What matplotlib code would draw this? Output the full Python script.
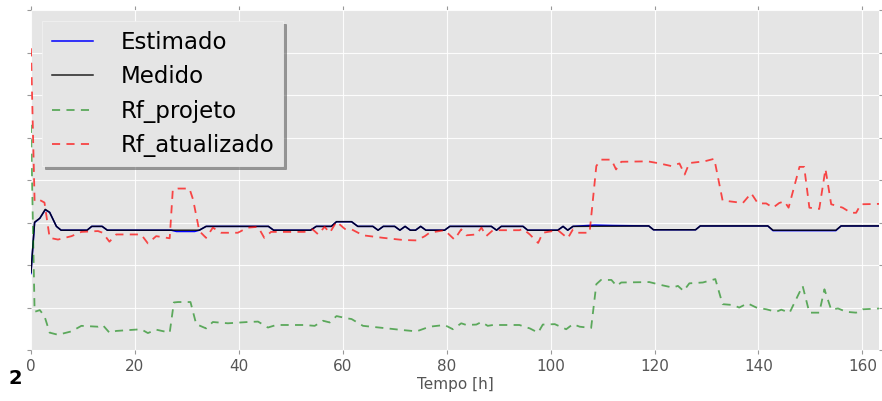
import numpy as np
import matplotlib.pyplot as plt

# Tempo (h) e valores (escala arbitrária do eixo y, 0-8)
x_medido = [0, 0.7, 1.7, 2.75, 3.6, 4.9, 5.8, 10.8, 11.7, 13.7,
            14.7, 32.4, 33.7, 45.7, 46.7, 53.8, 54.9, 57.8, 58.8, 61.7,
            62.9, 65.8, 66.8, 67.8, 70.0, 71.0, 72.0, 73.0, 74.0, 75.0,
            76.0, 79.6, 80.6, 88.6, 89.6, 90.5, 94.7, 95.6, 101.4, 102.4,
            103.3, 104.3, 118.9, 119.8, 127.9, 128.8, 141.8, 142.8, 154.9, 155.9,
            163.5]
y_medido = [1.83, 3.01, 3.1, 3.31, 3.24, 2.91, 2.82, 2.82, 2.91, 2.91,
            2.82, 2.82, 2.91, 2.91, 2.82, 2.82, 2.91, 2.91, 3.02, 3.02,
            2.91, 2.91, 2.82, 2.91, 2.91, 2.82, 2.91, 2.82, 2.82, 2.91,
            2.82, 2.82, 2.91, 2.91, 2.82, 2.91, 2.91, 2.82, 2.82, 2.91,
            2.82, 2.91, 2.92, 2.83, 2.83, 2.92, 2.92, 2.82, 2.82, 2.92,
            2.92]

x_estimado = [0, 0.7, 1.7, 2.75, 3.6, 4.9, 5.8, 10.8, 11.7, 13.7,
              14.7, 27.0, 28.0, 31.5, 32.4, 33.7, 45.7, 46.7, 53.8, 54.9,
              57.8, 58.8, 61.7, 62.9, 65.8, 66.8, 67.8, 70.0, 71.0, 72.0,
              73.0, 74.0, 75.0, 76.0, 79.6, 80.6, 88.6, 89.6, 90.5, 94.7,
              95.6, 101.4, 102.4, 103.3, 104.3, 108.5, 112.0, 118.9, 119.8, 127.9,
              128.8, 141.8, 142.8, 154.9, 155.9, 163.5]
y_estimado = [1.8, 3.0, 3.1, 3.3, 3.24, 2.91, 2.82, 2.82, 2.91, 2.91,
              2.82, 2.82, 2.79, 2.79, 2.82, 2.91, 2.91, 2.82, 2.82, 2.91,
              2.91, 3.02, 3.02, 2.91, 2.91, 2.82, 2.91, 2.91, 2.82, 2.91,
              2.82, 2.82, 2.91, 2.82, 2.82, 2.91, 2.91, 2.82, 2.91, 2.91,
              2.82, 2.82, 2.91, 2.82, 2.91, 2.94, 2.93, 2.92, 2.83, 2.83,
              2.92, 2.92, 2.81, 2.81, 2.92, 2.92]

x_projeto = [0, 0.7, 1.7, 2.6, 3.6, 5.2, 7.8, 9.7, 12.9, 13.8,
             15.1, 16.4, 21.2, 22.5, 24.1, 26.7, 27.5, 28.3, 30.7, 31.8,
             33.7, 35.0, 37.9, 41.7, 43.7, 45.6, 47.2, 52.6, 54.6, 56.2,
             57.5, 58.8, 60.7, 61.7, 63.9, 67.8, 71.6, 74.2, 75.8, 76.7,
             79.6, 81.2, 82.8, 83.8, 85.7, 86.7, 87.9, 88.9, 94.0, 96.0,
             97.6, 98.5, 100.8, 103.0, 104.3, 105.6, 107.8, 108.8, 109.7, 111.7,
             112.7, 113.6, 119.0, 121.3, 123.5, 124.5, 125.6, 126.7, 129.3, 131.7,
             133.1, 135.1, 136.3, 137.9, 139.6, 141.5, 143.4, 144.4, 146.0, 148.5,
             149.8, 151.7, 152.7, 154.0, 155.3, 156.9, 158.8, 160.1, 163.5]
y_projeto = [5.3, 0.9, 0.94, 0.8, 0.41, 0.36, 0.44, 0.57, 0.55, 0.59,
             0.41, 0.45, 0.49, 0.4, 0.48, 0.41, 1.12, 1.13, 1.13, 0.61,
             0.51, 0.66, 0.63, 0.66, 0.67, 0.53, 0.59, 0.59, 0.57, 0.69,
             0.65, 0.8, 0.75, 0.73, 0.57, 0.52, 0.47, 0.44, 0.51, 0.55,
             0.59, 0.49, 0.63, 0.59, 0.6, 0.66, 0.57, 0.59, 0.59, 0.51,
             0.41, 0.6, 0.61, 0.49, 0.61, 0.55, 0.52, 1.55, 1.65, 1.65,
             1.51, 1.59, 1.6, 1.53, 1.47, 1.51, 1.39, 1.57, 1.59, 1.67,
             1.08, 1.06, 1.0, 1.1, 1.0, 0.96, 0.9, 0.95, 0.88, 1.51,
             0.88, 0.88, 1.43, 0.95, 0.98, 0.9, 0.88, 0.96, 0.98]

x_atualizado = [0, 0.7, 1.7, 2.6, 3.6, 5.2, 7.8, 9.7, 12.9, 13.8,
                15.1, 16.4, 21.2, 22.5, 24.1, 26.7, 27.3, 28.3, 30.5, 31.2,
                32.4, 33.7, 35.0, 36.6, 39.8, 41.7, 43.7, 44.9, 46.2, 52.6,
                54.2, 55.3, 56.5, 57.5, 58.8, 60.4, 61.7, 63.9, 67.8, 71.6,
                74.2, 75.8, 76.7, 79.6, 81.5, 82.8, 83.8, 85.7, 86.7, 87.6,
                88.9, 94.0, 94.7, 96.0, 97.6, 98.5, 101.4, 103.3, 104.3, 105.3,
                107.5, 108.8, 109.7, 111.7, 112.6, 113.6, 118.7, 121.0, 123.2, 124.8,
                125.8, 126.7, 129.6, 131.5, 133.1, 134.4, 137.0, 138.6, 139.9, 141.5,
                142.8, 144.0, 145.0, 145.8, 147.9, 148.8, 149.8, 151.7, 152.9, 154.0,
                154.9, 156.2, 157.8, 158.8, 159.7, 163.5]
y_atualizado = [7.1, 3.5, 3.53, 3.47, 2.64, 2.6, 2.68, 2.78, 2.8, 2.76,
                2.55, 2.72, 2.72, 2.51, 2.68, 2.63, 3.78, 3.8, 3.8, 3.54,
                2.8, 2.64, 2.88, 2.76, 2.76, 2.88, 2.9, 2.64, 2.78, 2.78,
                2.84, 2.72, 2.9, 2.76, 3.02, 2.85, 2.84, 2.7, 2.64, 2.59,
                2.58, 2.68, 2.76, 2.82, 2.6, 2.84, 2.7, 2.72, 2.88, 2.68,
                2.82, 2.82, 2.85, 2.72, 2.52, 2.76, 2.82, 2.63, 2.84, 2.76,
                2.76, 4.33, 4.48, 4.48, 4.25, 4.43, 4.44, 4.39, 4.33, 4.39,
                4.13, 4.4, 4.44, 4.5, 3.52, 3.5, 3.46, 3.69, 3.45, 3.45,
                3.35, 3.46, 3.5, 3.35, 4.31, 4.31, 3.35, 3.32, 4.26, 3.43,
                3.4, 3.35, 3.23, 3.23, 3.43, 3.44]

plt.style.use('ggplot')
fig = plt.figure(figsize=(8.82, 4.01), dpi=100)
ax = fig.add_axes([0.0351, 0.127, 0.9615, 0.848])

ax.plot(x_estimado, y_estimado, color='blue', lw=1.1, label='Estimado')
ax.plot(x_medido, y_medido, color='black', lw=1.1, alpha=0.85, label='Medido')
ax.plot(x_projeto, y_projeto, '--', color='green', lw=1.3, alpha=0.6,
        dashes=(4.5, 3.5), label='Rf_projeto')
ax.plot(x_atualizado, y_atualizado, '--', color='red', lw=1.3, alpha=0.7,
        dashes=(4.5, 3.5), label='Rf_atualizado')

ax.set_xlim(0, 163.2)
ax.set_ylim(0, 8)
ax.set_xticks(np.arange(0, 161, 20))
ax.set_yticks(np.arange(0, 9, 1))
ax.set_yticklabels([])
ax.tick_params(direction='out', length=3, color='#999999', labelcolor='#555555',
               labelsize=11, top=True, right=True)
ax.grid(True, color='white', lw=0.8, alpha=0.9)
for s in ax.spines.values():
    s.set_visible(False)

ax.set_xlabel('Tempo [h]', fontsize=11, color='#555555', labelpad=2)

leg = ax.legend(loc='upper left', fontsize=16.5, shadow=True, fancybox=False,
                framealpha=1, handlelength=1.8, handletextpad=1.2)
leg.get_frame().set_facecolor('#E5E5E5')
leg.get_frame().set_edgecolor('#F2F2F2')

fig.text(0.017, 0.057, '2', fontsize=14, fontweight='bold', ha='center', va='center')

plt.savefig('out.png', dpi=100)
